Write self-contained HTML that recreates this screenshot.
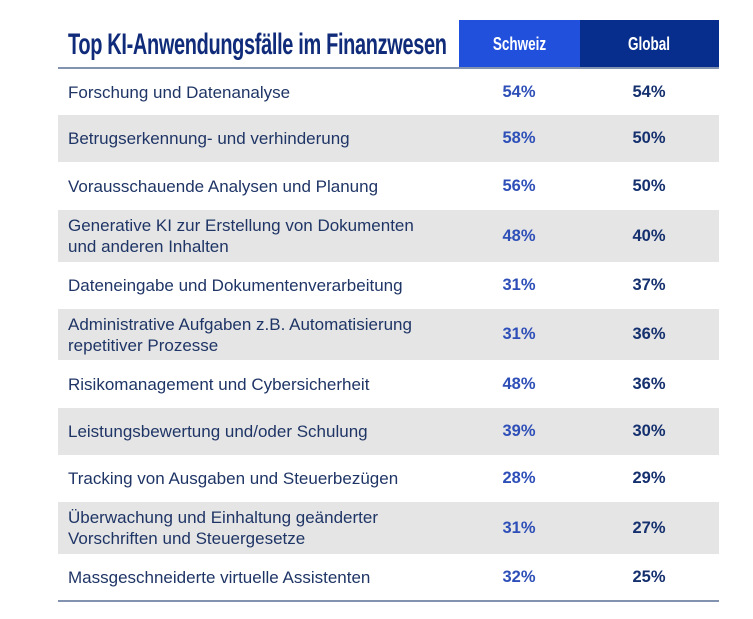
<!DOCTYPE html>
<html><head><meta charset="utf-8"><style>
body{margin:0;background:#fff;width:753px;height:619px;position:relative;font-family:"Liberation Sans",sans-serif;overflow:hidden}
.a{position:absolute}
.title{left:68px;top:28px;font-size:30px;font-weight:bold;color:#0f2b7a;transform:scaleX(0.665);transform-origin:left top;white-space:nowrap;letter-spacing:-0.5px;font-family:"Liberation Sans Narrow","Liberation Sans",sans-serif}
.h{top:20px;height:48px;color:#fff;font-weight:bold;font-size:18px;display:flex;align-items:center;justify-content:center}
.h span{display:inline-block;transform:scaleX(0.75)}
.row{position:absolute;left:58px;width:661px;display:flex;align-items:center}
.g{background:#e5e5e5}
.l{position:absolute;left:10px;font-size:17px;color:#1f3566;line-height:21px}
.s{position:absolute;left:419px;width:84px;text-align:center;font-weight:bold;font-size:16.5px;color:#2e4fb8}
.v{position:absolute;left:549px;width:84px;text-align:center;font-weight:bold;font-size:16.5px;color:#15306e}
</style></head><body>
<div class="a title">Top KI-Anwendungsfälle im Finanzwesen</div>
<div class="a h" style="left:459px;width:121px;background:#2150dd"><span>Schweiz</span></div>
<div class="a h" style="left:580px;width:139px;background:#072e8c"><span>Global</span></div>
<div class="a" style="left:58px;top:67px;width:661px;height:2px;background:#8293b0"></div>

<div class="row" style="top:69px;height:46px"><div class="l">Forschung und Datenanalyse</div><div class="s">54%</div><div class="v">54%</div></div>
<div class="row g" style="top:115px;height:47px"><div class="l">Betrugserkennung- und verhinderung</div><div class="s">58%</div><div class="v">50%</div></div>
<div class="row" style="top:162px;height:48px"><div class="l">Vorausschauende Analysen und Planung</div><div class="s">56%</div><div class="v">50%</div></div>
<div class="row g" style="top:210px;height:52px"><div class="l">Generative KI zur Erstellung von Dokumenten<br>und anderen Inhalten</div><div class="s">48%</div><div class="v">40%</div></div>
<div class="row" style="top:262px;height:47px"><div class="l">Dateneingabe und Dokumentenverarbeitung</div><div class="s">31%</div><div class="v">37%</div></div>
<div class="row g" style="top:309px;height:51px"><div class="l">Administrative Aufgaben z.B. Automatisierung<br>repetitiver Prozesse</div><div class="s">31%</div><div class="v">36%</div></div>
<div class="row" style="top:360px;height:48px"><div class="l">Risikomanagement und Cybersicherheit</div><div class="s">48%</div><div class="v">36%</div></div>
<div class="row g" style="top:408px;height:47px"><div class="l">Leistungsbewertung und/oder Schulung</div><div class="s">39%</div><div class="v">30%</div></div>
<div class="row" style="top:455px;height:47px"><div class="l">Tracking von Ausgaben und Steuerbezügen</div><div class="s">28%</div><div class="v">29%</div></div>
<div class="row g" style="top:502px;height:52px"><div class="l">Überwachung und Einhaltung geänderter<br>Vorschriften und Steuergesetze</div><div class="s">31%</div><div class="v">27%</div></div>
<div class="row" style="top:554px;height:46px"><div class="l">Massgeschneiderte virtuelle Assistenten</div><div class="s">32%</div><div class="v">25%</div></div>
<div class="a" style="left:58px;top:600px;width:661px;height:2px;background:#8293b0"></div>
</body></html>
